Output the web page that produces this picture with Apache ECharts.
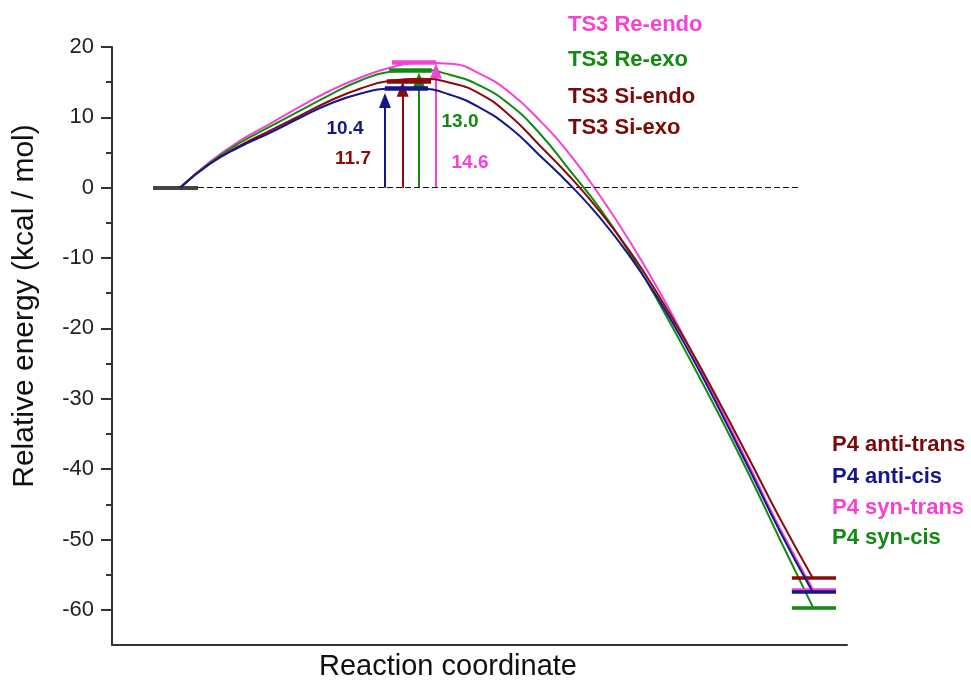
<!DOCTYPE html>
<html>
<head>
<meta charset="utf-8">
<script src="https://cdn.jsdelivr.net/npm/echarts@6/dist/echarts.min.js"></script>
<style>html,body{margin:0;padding:0;background:#fff;}#c{width:971px;height:688px;}</style>
</head>
<body>
<div id="c"></div>
<script>
// ---- data ----
var xCoord = [9.25, 13.33, 17.41, 21.5, 25.58, 29.66, 33.74, 37.82, 41.9, 45.99, 50.07, 54.15, 58.23, 62.31, 66.39, 70.48, 74.56, 78.64, 82.72, 86.8, 90.88, 95.37];
var reEndo = [0, 3.69, 6.68, 9.09, 11.51, 13.78, 15.63, 17.05, 17.76, 17.61, 16.19, 13.49, 9.52, 4.69, -1.14, -7.67, -14.91, -22.87, -31.25, -39.77, -48.44, -57.1];
var reExo  = [0, 3.55, 6.39, 8.67, 10.94, 13.21, 15.2, 16.48, 16.76, 16.05, 14.49, 11.79, 7.67, 2.42, -2.98, -9.38, -16.62, -24.43, -32.53, -41.05, -50.0, -59.66];
var siEndo = [0, 3.41, 5.97, 8.1, 10.23, 12.36, 14.06, 15.2, 15.48, 14.92, 13.35, 10.23, 5.97, 1.56, -3.41, -9.09, -15.63, -22.87, -30.68, -38.78, -47.02, -55.54];
var siExo  = [0, 3.41, 5.82, 7.81, 9.94, 11.93, 13.35, 14.06, 14.06, 13.21, 11.36, 8.52, 4.55, 0.43, -4.26, -9.8, -16.19, -23.58, -31.68, -40.2, -48.86, -57.53];

var seriesNames = ['Re-endo', 'Re-exo', 'Si-endo', 'Si-exo'];
var colors = ['#f542d4', '#128a12', '#8b0a0a', '#16168c'];
var tsLevels = [17.9, 16.7, 15.1, 14.1];
var tsStart = [38.1, 37.7, 37.4, 37.1];
var tsEnd = [44.1, 43.5, 43.4, 43.0];
var pLevels = [-57.1, -59.7, -55.5, -57.5];
var pStart = 92.5, pEnd = 98.5;
var arrowX = [44.08, 41.77, 39.55, 37.14];
var arrowTop = [16.6, 15.3, 14.0, 12.4];
var barrierLabels = ['14.6', '13.0', '11.7', '10.4'];
var reactantLevel = 0, reactantStart = 5.58, reactantEnd = 11.7;
var zeroLineEnd = 93.6;

var tsLabels = ['TS3 Re-endo', 'TS3 Re-exo', 'TS3 Si-endo', 'TS3 Si-exo'];
var tsLabelColors = ['#f542d4', '#128a12', '#7a0a0a', '#7a0a0a'];
var pLabels = ['P4 anti-trans', 'P4 anti-cis', 'P4 syn-trans', 'P4 syn-cis'];
var pLabelColors = ['#7a0a0a', '#16168c', '#f542d4', '#128a12'];

var yMajor = [-60, -50, -40, -30, -20, -10, 0, 10, 20];
var yMinor = [-55, -45, -35, -25, -15, -5, 5, 15];

var yTitle = 'Relative energy (kcal / mol)';
var xTitle = 'Reaction coordinate';

var chart = echarts.init(document.getElementById('c'), null, {renderer: 'canvas'});
var curves = [reEndo, reExo, siEndo, siExo];

var series = curves.map(function (vals, i) {
  return {
    name: seriesNames[i],
    type: 'line',
    smooth: 0.5,
    showSymbol: false,
    silent: true,
    z: 3 + i,
    lineStyle: {color: colors[i], width: 2},
    data: xCoord.map(function (x, k) { return [x, vals[k]]; }),
    markLine: {
      silent: true,
      symbol: ['none', 'none'],
      symbolSize: [12, 15],
      label: {show: false},
      animation: false,
      data: [
        [{coord: [tsStart[i], tsLevels[i]], lineStyle: {color: colors[i], width: 4.5, type: 'solid'}},
         {coord: [tsEnd[i], tsLevels[i]]}],
        [{coord: [pStart, pLevels[i]], lineStyle: {color: colors[i], width: 3.5, type: 'solid'}},
         {coord: [pEnd, pLevels[i]]}],
        [{coord: [arrowX[i], 0], symbol: 'none', lineStyle: {color: colors[i], width: 2, type: 'solid'}},
         {coord: [arrowX[i], arrowTop[i]], symbol: 'triangle'}]
      ]
    }
  };
});

series.push({
  name: 'guides',
  type: 'line',
  data: [],
  silent: true,
  z: 1,
  markLine: {
    silent: true,
    symbol: ['none', 'none'],
    label: {show: false},
    animation: false,
    data: [
      [{coord: [reactantEnd, 0], lineStyle: {color: '#111', width: 1.2, type: [6, 3]}},
       {coord: [zeroLineEnd, 0]}],
      [{coord: [reactantStart, reactantLevel], lineStyle: {color: '#444', width: 4, type: 'solid'}},
       {coord: [reactantEnd, reactantLevel]}]
    ]
  }
});

var boldFont = 'bold 22px "Liberation Sans", Arial, sans-serif';
var graphics = [];
var tsY = [25, 60, 97, 128];
tsLabels.forEach(function (t, i) {
  graphics.push({type: 'text', x: 568, y: tsY[i],
    style: {text: t, fill: tsLabelColors[i], font: boldFont, verticalAlign: 'middle', align: 'left'}});
});
var pY = [445, 477, 508, 538];
pLabels.forEach(function (t, i) {
  graphics.push({type: 'text', x: 832, y: pY[i],
    style: {text: t, fill: pLabelColors[i], font: boldFont, verticalAlign: 'middle', align: 'left'}});
});
var blPos = [[470, 163], [460, 122], [353, 159], [345, 129]];
barrierLabels.forEach(function (t, i) {
  graphics.push({type: 'text', x: blPos[i][0], y: blPos[i][1],
    style: {text: t, fill: colors[i], font: 'bold 19px "Liberation Sans", Arial, sans-serif', verticalAlign: 'middle', align: 'center'}});
});
graphics.push({type: 'text', x: 25, y: 306, rotation: Math.PI / 2,
  style: {text: yTitle, fill: '#111', font: '30px "Liberation Sans", Arial, sans-serif', verticalAlign: 'middle', align: 'center'}});
graphics.push({type: 'text', x: 448, y: 667,
  style: {text: xTitle, fill: '#111', font: '29px "Liberation Sans", Arial, sans-serif', verticalAlign: 'middle', align: 'center'}});

chart.setOption({
  animation: false,
  backgroundColor: '#fff',
  grid: {left: 112, right: 124, top: 47, bottom: 43},
  xAxis: {
    type: 'value', min: 0, max: 100,
    axisLine: {show: true, onZero: false, lineStyle: {color: '#333', width: 2}},
    axisTick: {show: false}, axisLabel: {show: false}, splitLine: {show: false}
  },
  yAxis: [{
    type: 'value', min: -65, max: 20, interval: 5,
    axisLine: {show: true, onZero: false, lineStyle: {color: '#333', width: 2}},
    axisTick: {show: true, customValues: yMajor, length: 11, lineStyle: {color: '#333', width: 2}},
    axisLabel: {customValues: yMajor, margin: 18, fontSize: 22, color: '#222', fontFamily: '"Liberation Sans", Arial, sans-serif'},
    splitLine: {show: false}
  }, {
    type: 'value', min: -65, max: 20, interval: 5, position: 'left',
    axisLine: {show: false, onZero: false},
    axisTick: {show: true, customValues: yMinor, length: 6, lineStyle: {color: '#333', width: 2}},
    axisLabel: {show: false}, splitLine: {show: false}
  }],
  series: series,
  graphic: graphics
});
</script>
</body>
</html>
